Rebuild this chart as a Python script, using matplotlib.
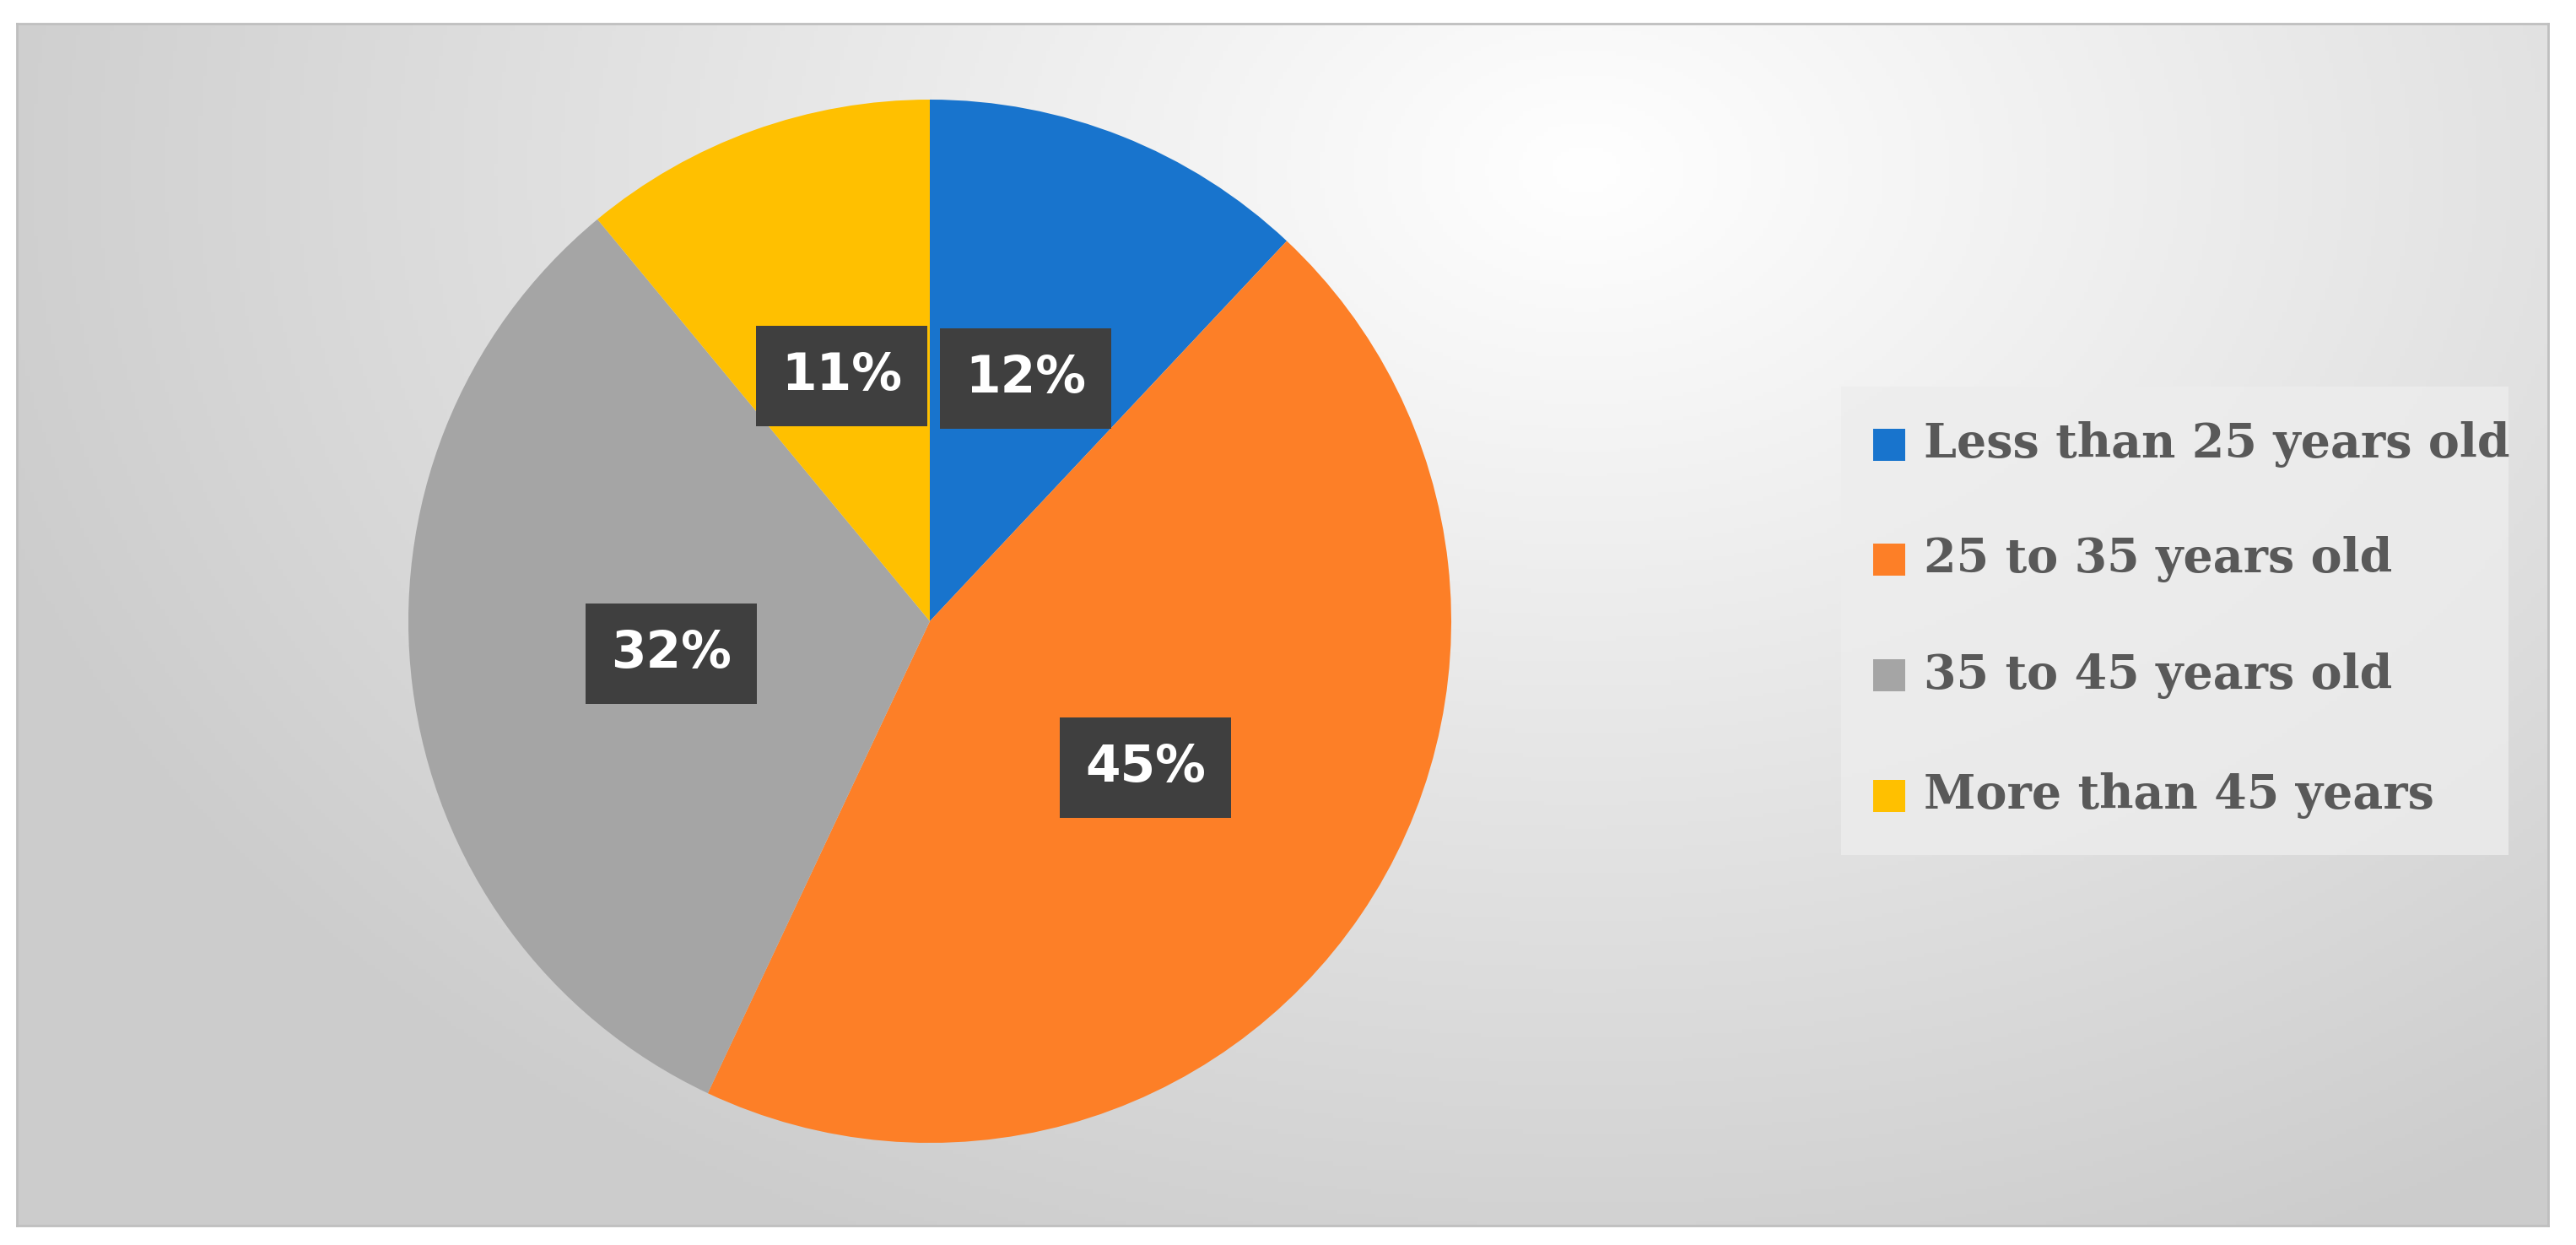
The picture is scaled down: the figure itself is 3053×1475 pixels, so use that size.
import numpy as np
import matplotlib
matplotlib.use("Agg")
import matplotlib.pyplot as plt
from matplotlib.patches import Rectangle

categories = ["Less than 25 years old", "25 to 35 years old", "35 to 45 years old", "More than 45 years"]
values = [12, 45, 32, 11]
colors = ["#1874CD", "#FD7F27", "#A5A5A5", "#FFC000"]

W, H = 3053, 1475
fig = plt.figure(figsize=(W/100, H/100), dpi=100)
fig.patch.set_facecolor("white")

# background gradient in frame
x0, y0, x1, y1 = 20/W, 1-1452/H, 3020/W, 1-28/H
bg = fig.add_axes([x0, y0, x1-x0, y1-y0])
yy, xx = np.mgrid[0:1:300j, 0:1:600j]
d = np.sqrt(((xx-0.62)*1.5)**2 + ((yy-0.12)*1.0)**2)
g = np.clip(1.0 - 0.2*d, 0.8, 1.0)
bg.imshow(np.dstack([g, g, g]), aspect="auto", extent=[0, 1, 1, 0])
bg.set_xticks([]); bg.set_yticks([])
for s in bg.spines.values():
    s.set_color("#BFBFBF"); s.set_linewidth(2)

# pie
cx, cy, r = 1102, 736, 618
ax = fig.add_axes([(cx-r)/W, 1-(cy+r)/H, 2*r/W, 2*r/H])
ax.set_facecolor("none")
wedges, texts, autotexts = ax.pie(values, colors=colors, startangle=90, counterclock=False,
                                  autopct="%d%%", pctdistance=0.5, radius=1.0,
                                  wedgeprops=dict(linewidth=0),
                                  textprops=dict(color="white", fontsize=43, fontweight="bold",
                                                 family="DejaVu Sans"))
for t in autotexts:
    t.set_bbox(dict(facecolor="#3F3F3F", edgecolor="none", boxstyle="square,pad=0.5"))
ax.set_xlim(-1, 1); ax.set_ylim(-1, 1)
ax.set_aspect("equal")

# legend
lx0, ly0, lx1, ly1 = 2182, 458, 2973, 1013
fig.patches.append(Rectangle((lx0/W, 1-ly1/H), (lx1-lx0)/W, (ly1-ly0)/H,
                             transform=fig.transFigure, facecolor="#EDEDED",
                             edgecolor="none", alpha=0.8))
ys = [527, 663, 800, 943]
for c, lab, yv in zip(colors, categories, ys):
    fig.patches.append(Rectangle((2220/W, 1-(yv+19)/H), 38/W, 38/H,
                                 transform=fig.transFigure, facecolor=c, edgecolor="none"))
    fig.text(2280/W, 1-yv/H, lab, fontsize=40, fontweight="bold", color="#595959",
             family="DejaVu Serif", va="center", ha="left")

fig.savefig("out.png", dpi=100)
